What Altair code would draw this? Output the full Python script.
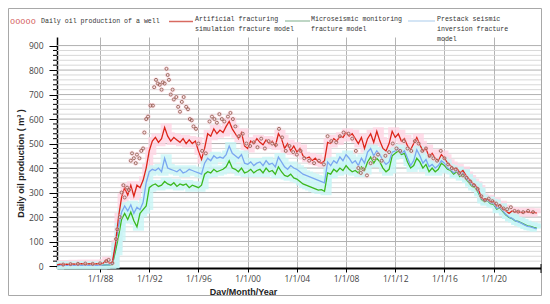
import altair as alt
import pandas as pd

# ---------------- data ----------------
years = [1984, 1985, 1986, 1987, 1988, 1989, 1990, 1991, 1992, 1993,
         1994, 1995, 1996, 1997, 1998, 1999, 2000, 2001, 2002, 2003,
         2004, 2005, 2006, 2007, 2008, 2009, 2010, 2011, 2012, 2013,
         2014, 2015, 2016, 2017, 2018, 2019, 2020, 2021, 2022, 2023]

# quarterly values (Q1..Q4) per year
artificial = [
    [None, None, 5, 8], [6, 8, 7, 9], [8, 9, 10, 8], [9, 10, 8, 10],
    [9, 12, 22, 12], [15, 90, 200, 280], [320, 290, 330, 285], [330, 320, 350, 400],
    [470, 510, 525, 505], [520, 566, 530, 510], [525, 515, 505, 520], [500, 515, 500, 510],
    [470, 435, 480, 540], [530, 560, 540, 555], [545, 570, 590, 560], [540, 520, 545, 490],
    [480, 510, 500, 520], [505, 495, 515, 500], [510, 490, 540, 520], [480, 500, 470, 490],
    [465, 480, 450, 440], [445, 430, 440, 425], [420, 430, 505, 500], [520, 510, 530, 525],
    [545, 530, 540, 520], [500, 525, 480, 520], [540, 505, 550, 510], [480, 470, 500, 550],
    [525, 540, 510, 520], [490, 475, 500, 525], [495, 470, 480, 445], [460, 440, 430, 455],
    [440, 420, 410, 395], [400, 380, 390, 370], [355, 340, 330, 315], [280, 270, 275, 262],
    [265, 245, 250, 235], [225, 215, 225, 220], [222, 218, 220, 222], [218, 220, 216, None],
]
microseismic = [
    [None, None, 2, 3], [3, 3, 3, 3], [3, 3, 3, 3], [3, 3, 3, 3],
    [3, 4, 5, 5], [6, 60, 120, 190], [215, 190, 220, 185], [160, 215, 230, 245],
    [320, 330, 335, 325], [330, 345, 335, 330], [340, 325, 335, 330], [335, 320, 330, 325],
    [320, 330, 375, 385], [380, 395, 385, 390], [395, 405, 430, 400], [395, 385, 400, 380],
    [385, 395, 380, 390], [395, 380, 400, 385], [390, 375, 405, 385], [370, 365, 375, 360],
    [355, 345, 335, 330], [325, 320, 315, 310], [312, 305, 380, 375], [395, 385, 400, 390],
    [410, 395, 385, 390], [380, 405, 390, 425], [445, 420, 440, 425], [400, 385, 395, 450],
    [460, 470, 455, 460], [425, 400, 410, 440], [425, 400, 415, 385], [400, 385, 395, 420],
    [410, 395, 390, 375], [385, 365, 375, 355], [340, 325, 320, 300], [272, 262, 266, 255],
    [252, 232, 238, 222], [208, 198, 194, 184], [182, 176, 170, 164], [162, 158, 155, None],
]
prestack = [
    [None, None, 2, 3], [3, 3, 3, 3], [3, 3, 3, 3], [3, 3, 3, 3],
    [3, 4, 5, 5], [8, 80, 160, 220], [245, 225, 250, 215], [240, 230, 260, 340],
    [385, 395, 390, 400], [385, 440, 400, 395], [390, 385, 395, 380], [385, 395, 390, 385],
    [380, 375, 420, 440], [430, 450, 440, 445], [440, 455, 490, 460], [450, 440, 455, 420],
    [415, 425, 410, 420], [425, 410, 430, 415], [420, 405, 445, 425], [405, 395, 410, 400],
    [395, 385, 375, 370], [365, 360, 355, 350], [345, 340, 425, 410], [430, 420, 445, 430],
    [455, 440, 420, 430], [410, 440, 420, 465], [480, 450, 470, 455], [430, 415, 425, 465],
    [470, 480, 460, 470], [440, 410, 430, 475], [450, 420, 435, 405], [415, 400, 410, 430],
    [420, 400, 395, 380], [390, 370, 380, 360], [345, 330, 325, 305], [275, 265, 268, 258],
    [255, 235, 240, 225], [210, 200, 195, 185], [180, 175, 168, 162], [160, 156, 152, None],
]

# measured daily oil production of the well (scatter)
obs_t = [1985.0, 1985.6, 1986.2, 1986.8, 1987.4, 1988.0, 1988.5, 1988.7, 1989.0,
         1989.3, 1989.4, 1989.6, 1989.75, 1989.9, 1990.0, 1990.2, 1990.35, 1990.5,
         1990.6, 1990.75, 1990.9, 1991.0, 1991.2, 1991.35, 1991.5, 1991.6, 1991.75,
         1991.9, 1992.1, 1992.3, 1992.4, 1992.55, 1992.7, 1992.85, 1993.0, 1993.1,
         1993.25, 1993.4, 1993.5, 1993.6, 1993.75, 1993.9, 1994.0, 1994.2, 1994.35,
         1994.5, 1994.65, 1994.8, 1995.0, 1995.15, 1995.3, 1995.45, 1995.6, 1995.8,
         1996.0, 1996.3, 1996.6, 1996.9, 1997.1, 1997.3, 1997.5, 1997.7, 1997.9,
         1998.1, 1998.4, 1998.6, 1998.8, 1999.0, 1999.3, 1999.6, 1999.9, 2000.2,
         2000.5, 2000.8, 2001.1, 2001.4, 2001.7, 2002.0, 2002.3, 2002.55, 2002.8,
         2003.1, 2003.4, 2003.7, 2004.0, 2004.3, 2004.6, 2005.0, 2005.4, 2005.8,
         2006.2, 2006.5, 2006.8, 2007.2, 2007.5, 2007.8, 2008.2, 2008.5, 2008.8,
         2009.0, 2009.2, 2009.4, 2009.7, 2010.0, 2010.3, 2010.6, 2010.9, 2011.2,
         2011.5, 2011.8, 2012.1, 2012.4, 2012.7, 2013.0, 2013.3, 2013.6, 2013.9,
         2014.2, 2014.5, 2014.8, 2015.1, 2015.4, 2015.7, 2016.0, 2016.3, 2016.6,
         2016.9, 2017.2, 2017.5, 2017.8, 2018.1, 2018.4, 2018.7, 2019.0, 2019.3,
         2019.6, 2019.9, 2020.2, 2020.5, 2020.8, 2021.1, 2021.4, 2021.7, 2022.0,
         2022.4, 2022.8, 2023.2]
obs_v = [6, 8, 9, 10, 9, 11, 20, 25, 12,
         110, 150, 200, 300, 330, 280, 320, 310, 430,
         460, 440, 420, 455, 440, 470, 480, 545, 600,
         610, 655, 655, 730, 760, 745, 740, 720, 750,
         745, 805, 780, 760, 700, 720, 680, 690, 650,
         630, 670, 690, 650, 640, 600, 595, 570, 560,
         500, 470, 460, 590, 610, 600, 585, 620, 600,
         590, 610, 625, 600, 570, 530, 540, 500, 490,
         505, 485, 520, 480, 510, 500, 495, 560, 525,
         470, 490, 465, 455, 470, 440, 430, 420, 430,
         415, 530, 510, 505, 530, 545, 540, 520, 470,
         400, 380, 395, 370, 420, 440, 455, 430, 450,
         465, 500, 480, 470, 510, 480, 470, 510, 500,
         470, 480, 450, 440, 430, 470, 440, 415, 400,
         395, 380, 370, 360, 345, 330, 315, 285, 270,
         275, 265, 255, 245, 235, 232, 240, 225, 222,
         220, 225, 220]

x_ticks = [1988, 1992, 1996, 2000, 2004, 2008, 2012, 2016, 2020]
y_major = [0, 100, 200, 300, 400, 500, 600, 700, 800, 900]
y_minor = [v for v in range(0, 901, 20) if v % 100 != 0]

series_names = ["Artificial", "Microseismic", "Prestack"]
series_vals = [artificial, microseismic, prestack]

rows = []
for name, vals in zip(series_names, series_vals):
    for yr, qs in zip(years, vals):
        for q, v in enumerate(qs):
            if v is not None:
                rows.append({"series": name, "t": yr + q * 0.25, "v": v})
lines_df = pd.DataFrame(rows)
obs_df = pd.DataFrame({"t": obs_t, "v": obs_v})

# ---------------- layout ----------------
W, H = 484, 231
xscale = alt.Scale(domain=[1984.5, 2023.85], nice=False, zero=False)
yscale = alt.Scale(domain=[-8, 935], nice=False, zero=False)

xaxis = alt.Axis(
    values=x_ticks,
    labelExpr="'1/1/' + substring(toString(datum.value), 2, 4)",
    title="Day/Month/Year", titleX=186, titleY=23, titleAlign="center",
    titleBaseline="middle", titleFont="Liberation Sans", titleFontSize=9,
    titleFontWeight="bold", titleColor="#222",
    labelFont="Open Sans", labelFontSize=8.5, labelColor="#444", labelPadding=2,
    tickSize=4, tickColor="#000", domainColor="#000", domainWidth=2,
    grid=True, gridColor="#b4b4b4", gridWidth=1,
)
yaxis = alt.Axis(
    values=y_major,
    title="Daily oil production ( m³ )", titleAngle=270, titleX=-37, titleY=126,
    titleAlign="center", titleBaseline="middle", titleFont="Liberation Sans",
    titleFontSize=9, titleFontWeight="bold", titleColor="#222",
    labelFont="Open Sans", labelFontSize=8.5, labelColor="#444", labelPadding=6,
    tickSize=8, tickColor="#000", domainColor="#000", domainWidth=1.5, grid=False,
)

X = alt.X("t:Q", scale=xscale, axis=xaxis)
Y = alt.Y("v:Q", scale=yscale, axis=yaxis)

one = pd.DataFrame({"a": [0]})

frame = alt.Chart(one).mark_rect(fill=None, stroke="#a8a8a8", strokeWidth=1).encode(
    x=alt.value(-48.5), x2=alt.value(484.5), y=alt.value(-28.5), y2=alt.value(258.5))

grid_minor = alt.Chart(pd.DataFrame({"v": y_minor})).mark_rule(
    color="#d8d8d8", strokeWidth=1).encode(y=Y, x=alt.value(0), x2=alt.value(W))
grid_major = alt.Chart(pd.DataFrame({"v": y_major[1:]})).mark_rule(
    color="#b0b0b0", strokeWidth=1).encode(y=Y, x=alt.value(0), x2=alt.value(W))
minor_ticks = alt.Chart(pd.DataFrame({"v": y_minor})).mark_rule(
    color="#000", strokeWidth=1).encode(y=Y, x=alt.value(-4), x2=alt.value(0))

red_c, green_c, blue_c = "#dc2418", "#3cb81e", "#7aa7f0"

halo_pink = alt.Chart(lines_df).transform_filter("datum.series == 'Artificial'").mark_line(
    color="#ffd2e2", strokeWidth=8, opacity=0.75, interpolate="step-after").encode(x=X, y=Y)
halo_cyan = alt.Chart(lines_df).transform_filter("datum.series != 'Artificial'").mark_line(
    color="#c6f6f6", strokeWidth=8, opacity=0.75, interpolate="step-after").encode(
    x=X, y=Y, detail="series:N")

green_line = alt.Chart(lines_df).transform_filter("datum.series == 'Microseismic'").mark_line(
    strokeWidth=1.3, color=green_c).encode(x=X, y=Y)
blue_line = alt.Chart(lines_df).transform_filter("datum.series == 'Prestack'").mark_line(
    strokeWidth=1.3, color=blue_c).encode(x=X, y=Y)
red_line = alt.Chart(lines_df).transform_filter("datum.series == 'Artificial'").mark_line(
    strokeWidth=1.3, color=red_c).encode(x=X, y=Y)

obs_halo = alt.Chart(obs_df).mark_point(filled=True, size=30, color="#ffc8d6", opacity=0.45).encode(x=X, y=Y)
obs_pts = alt.Chart(obs_df).mark_point(filled=False, size=9, color="#8c5a48",
                                       strokeWidth=0.9, opacity=0.9).encode(x=X, y=Y)

end_tick = alt.Chart(one).mark_rule(color="#000", strokeWidth=1).encode(
    x=alt.value(W), y=alt.value(H - 4), y2=alt.value(H + 5))

# ---------------- legend ----------------
LF = "Liberation Mono"
LS = 6.6
def txt(s, x, y, color="#333", size=LS):
    return alt.Chart(one).mark_text(text=s, font=LF, fontSize=size, align="left",
                                    baseline="middle", color=color).encode(
        x=alt.value(x), y=alt.value(y))

def seg(x1, x2, y, color):
    return alt.Chart(one).mark_rule(color=color, strokeWidth=1.5).encode(
        x=alt.value(x1), x2=alt.value(x2), y=alt.value(y))

legend = [
    txt("ooooo", -47, -16, color="#d35a5a", size=8.6),
    txt("Daily oil production of a well", -16, -16),
    seg(112, 136, -15.5, "#d86a60"),
    txt("Artificial fracturing", 138, -18),
    txt("simulation fracture model", 138, -8),
    seg(228, 253, -16, "#a9c9b2"),
    txt("Microseismic monitoring", 254, -18),
    txt("fracture model", 254, -8),
    seg(351, 378, -16, "#c6ddf2"),
    txt("Prestack seismic", 380, -18),
    txt("inversion fracture", 380, -8),
    txt("model", 380, 2),
]

chart = alt.layer(
    frame, grid_minor, grid_major,
    halo_pink, halo_cyan,
    green_line, blue_line, red_line,
    obs_halo, obs_pts,
    minor_ticks, end_tick,
    *legend,
).properties(
    width=W, height=H,
    autosize=alt.AutoSizeParams(type="none"),
    padding={"left": 49, "top": 29, "right": 1, "bottom": 28},
    background="white",
).configure_view(stroke=None)

chart.save("out.html", embed_options={"renderer": "svg", "actions": False})
